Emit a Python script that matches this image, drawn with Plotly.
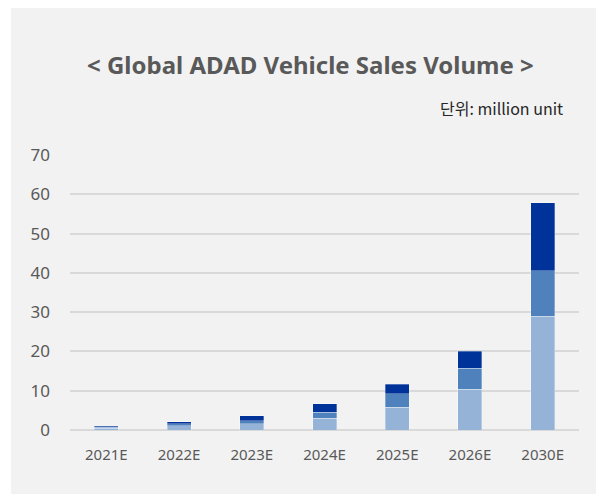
import plotly.graph_objects as go

categories = ["2021E", "2022E", "2023E", "2024E", "2025E", "2026E", "2030E"]
series_light = [0.4, 1.1, 1.6, 3.0, 5.8, 10.4, 29.0]
series_mid = [0.3, 0.5, 0.8, 1.5, 3.4, 5.3, 11.6]
series_dark = [0.3, 0.5, 1.2, 2.2, 2.5, 4.3, 17.3]
y_ticks = [0, 10, 20, 30, 40, 50, 60, 70]

# page offset (body margin) of 8px is compensated: figure coords = page coords - 8
OFF = 8
W, H = 604 - OFF, 494 - OFF
L, R, T, B = 70 - OFF, 25, 155 - OFF, 64
pw, ph = W - L - R, H - T - B

def px(x):
    return (x - OFF - L) / pw

def py(y):
    return (H - B - (y - OFF)) / ph

fig = go.Figure()
for vals, col in [(series_light, "#95B3D7"), (series_mid, "#4F81BD"), (series_dark, "#003399")]:
    fig.add_trace(go.Bar(x=categories, y=vals, marker=dict(color=col, line=dict(color="rgba(255,255,255,0.5)", width=0.6)),
                         width=0.33, showlegend=False, hoverinfo="y"))

fig.update_layout(
    width=W, height=H, barmode="stack",
    margin=dict(l=L, r=R, t=T, b=B, pad=0),
    paper_bgcolor="white", plot_bgcolor="rgba(0,0,0,0)",
    font=dict(family="Noto Sans, Open Sans, sans-serif", color="#595959"),
    shapes=[dict(type="rect", xref="paper", yref="paper", x0=px(11), x1=px(620), y0=py(8), y1=py(510),
                 fillcolor="#F2F2F2", line=dict(width=0), layer="below")],
    annotations=[
        dict(text="<b>< Global ADAD Vehicle Sales Volume ></b>", xref="paper", yref="paper",
             x=px(310), y=py(65), xanchor="center", yanchor="middle", showarrow=False,
             font=dict(size=24, color="#595959")),
        dict(text="단위: million unit", xref="paper", yref="paper",
             x=px(565), y=py(108), xanchor="right", yanchor="middle", showarrow=False,
             font=dict(size=16, color="#262626", family="Noto Sans CJK KR, Noto Sans, sans-serif")),
    ],
    xaxis=dict(showgrid=False, showline=False, ticks="", tickfont=dict(size=15, color="#595959"),
               ticklabelstandoff=14),
    yaxis=dict(range=[0, 70], tickvals=y_ticks, showgrid=True, gridcolor="#D9D9D9", gridwidth=1.5,
               zeroline=True, zerolinecolor="#D9D9D9", zerolinewidth=1.5,
               tickfont=dict(size=17, color="#595959"), ticklabelstandoff=19),
)

fig.write_html("out.html")
